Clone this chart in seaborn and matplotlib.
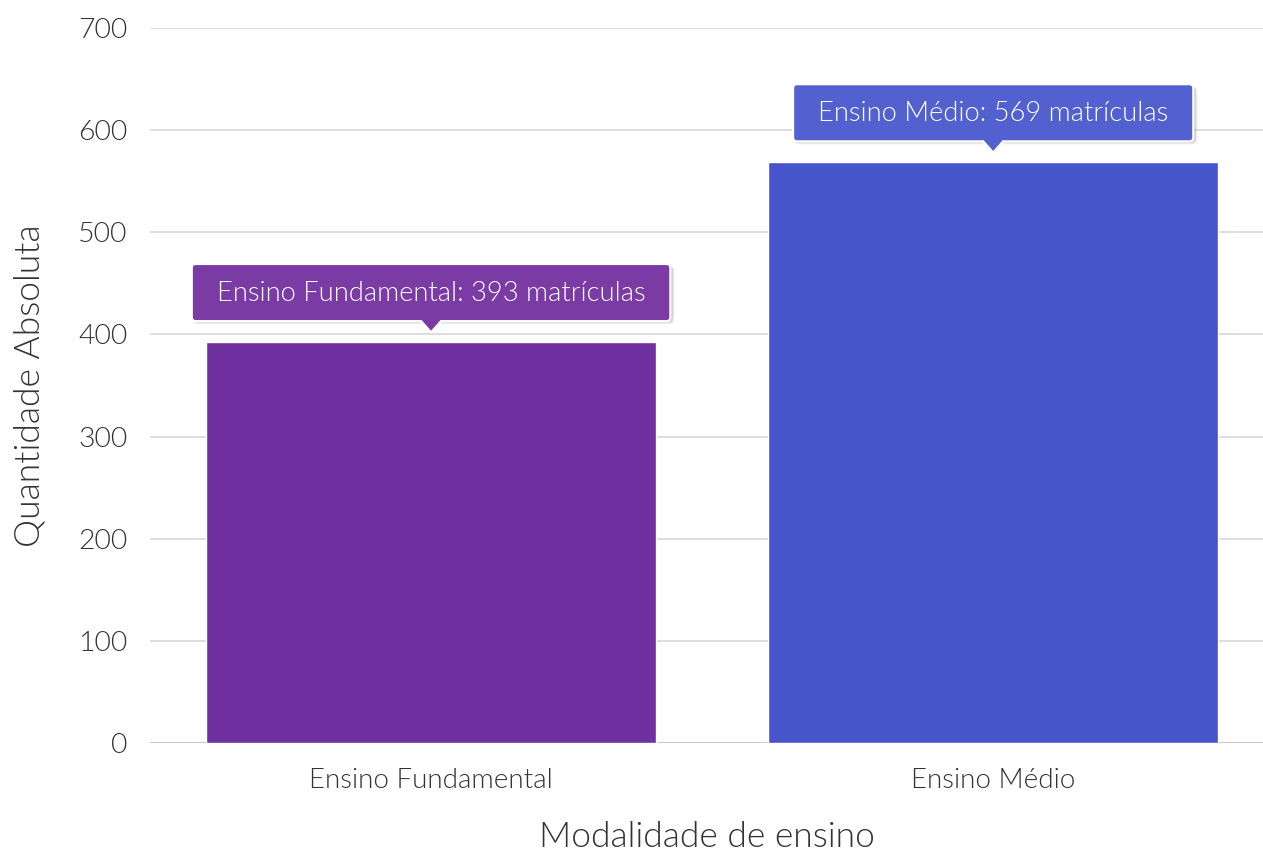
import matplotlib
matplotlib.use("Agg")
import matplotlib.pyplot as plt
import seaborn as sns
import pandas as pd
from matplotlib import font_manager as fm
from matplotlib.patches import FancyBboxPatch, Polygon
from matplotlib.lines import Line2D
from matplotlib.transforms import IdentityTransform

categories = ["Ensino Fundamental", "Ensino Médio"]
values = [393, 569]
bar_colors = ["#7030A0", "#4755CD"]
tip_colors = ["#7A3BA5", "#5261CF"]
yticks = [0, 100, 200, 300, 400, 500, 600, 700]

sns.set_theme(style="white")
plt.rcParams["font.family"] = ["Lato", "DejaVu Sans"]

light_path = None
for f in fm.fontManager.ttflist:
    if f.fname.endswith("Lato-Light.ttf"):
        light_path = f.fname
        break


def fp(size):
    if light_path:
        return fm.FontProperties(fname=light_path, size=size)
    return fm.FontProperties(family="Lato", weight=300, size=size)


df = pd.DataFrame({"Modalidade": categories, "Quantidade": values})

fig = plt.figure(figsize=(12.63, 8.52), dpi=100)
ax = fig.add_axes([150/1263, 109/852, 1113/1263, 715/852])

sns.barplot(data=df, x="Modalidade", y="Quantidade", hue="Modalidade",
            palette=bar_colors, width=0.8, saturation=1, legend=False, ax=ax)

ax.set_ylim(0, 700)
ax.set_xlim(-0.5, 1.48)
ax.set_yticks(yticks)
ax.set_yticklabels([str(t) for t in yticks])
for y in yticks:
    ax.axhline(y, color="#c8c8c8" if y == 0 else "#dddddd", lw=1.4, zorder=0)
for s in ax.spines.values():
    s.set_visible(False)
ax.tick_params(axis="both", length=0, colors="#333333")
ax.tick_params(axis="y", pad=16)
ax.tick_params(axis="x", pad=18)
for lab in ax.get_yticklabels():
    lab.set_fontproperties(fp(20.5))
for lab in ax.get_xticklabels():
    lab.set_fontproperties(fp(20))
ax.set_xlabel("Modalidade de ensino", color="#333333", labelpad=20, fontproperties=fp(25.5))
ax.set_ylabel("Quantidade Absoluta", color="#333333", labelpad=24, fontproperties=fp(25.5))

# tooltips
texts = []
for i, (c, v) in enumerate(zip(categories, values)):
    t = ax.text(i, v + 47, f"{c}: {v} matrículas", ha="center", va="center",
                color="white", fontproperties=fp(19.7), zorder=6)
    texts.append(t)

fig.canvas.draw()
r = fig.canvas.get_renderer()
ident = IdentityTransform()
for i, (t, v) in enumerate(zip(texts, values)):
    bb = t.get_window_extent(r)
    cx, ytip = ax.transData.transform((i, v + 9))
    _, yb = ax.transData.transform((i, v + 20))
    _, yt = ax.transData.transform((i, v + 76))
    x0 = bb.x0 - 25
    x1 = bb.x1 + 25
    w = x1 - x0
    h = yt - yb
    for k, a in [(3, 0.06), (2, 0.08), (1, 0.10)]:
        sh = FancyBboxPatch((x0 + 1, yb - k), w + k, h, boxstyle="round,pad=0,rounding_size=5",
                            fc="#000000", ec="none", alpha=a, zorder=3, transform=ident)
        ax.add_patch(sh)
    box = FancyBboxPatch((x0, yb), w, h, boxstyle="round,pad=0,rounding_size=4",
                         fc=tip_colors[i], ec="white", lw=1.6, zorder=4, transform=ident)
    ax.add_patch(box)
    dx = 10
    tri = Polygon([(cx - dx, yb + 1.5), (cx + dx, yb + 1.5), (cx, ytip)], closed=True,
                  fc=tip_colors[i], ec="none", zorder=5, transform=ident)
    ax.add_patch(tri)
    ax.add_line(Line2D([cx - dx, cx, cx + dx], [yb, ytip, yb], color="white", lw=1.6,
                       zorder=5, transform=ident))

fig.savefig("out.png", dpi=100)
